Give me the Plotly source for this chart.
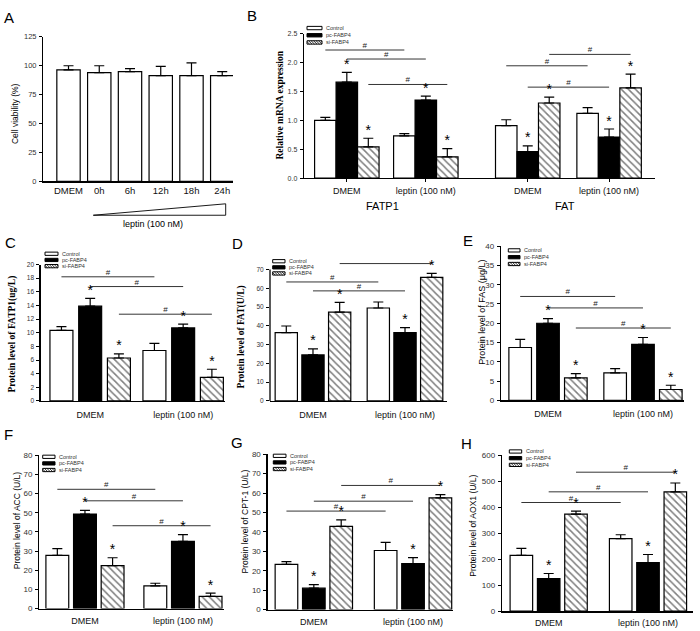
import plotly.graph_objects as go

W, H = 700, 631
SANS = "Liberation Sans, Arial, sans-serif"
SERIF = "Liberation Serif, Times New Roman, serif"

# ---------------- data ----------------
A_categories = ["DMEM", "0h", "6h", "12h", "18h", "24h"]
A_viability = [96.5, 94.0, 95.0, 91.5, 91.5, 91.5]
A_viability_err = [3.5, 6.0, 2.5, 8.0, 11.0, 3.5]

series_names = ["Control", "pc-FABP4", "si-FABP4"]
treatments = ["DMEM", "leptin (100 nM)"]

B_genes = ["FATP1", "FAT"]
B_treatments = ["DMEM", "leptin (100 nM)", "DMEM", "leptin (100 nM)"]
B_control = [1.00, 0.73, 0.91, 1.12]
B_control_err = [0.05, 0.04, 0.10, 0.10]
B_pc = [1.66, 1.35, 0.46, 0.71]
B_pc_err = [0.17, 0.07, 0.10, 0.14]
B_si = [0.54, 0.37, 1.30, 1.56]
B_si_err = [0.15, 0.14, 0.10, 0.24]
# (series, group a, group b, level)
B_sig = [(0, 0, 1, 2.216), (1, 0, 1, 2.06), (2, 0, 1, 1.62),
         (0, 2, 3, 1.943), (2, 2, 3, 2.14), (1, 2, 3, 1.574)]

C_control = [10.35, 7.4]
C_control_err = [0.55, 1.05]
C_pc = [13.9, 10.7]
C_pc_err = [1.15, 0.55]
C_si = [6.3, 3.45]
C_si_err = [0.6, 1.2]
C_sig = [(0, 0, 1, 18.2), (1, 0, 1, 16.77), (2, 0, 1, 12.72)]

D_control = [36.4, 49.5]
D_control_err = [3.5, 3.2]
D_pc = [24.5, 36.4]
D_pc_err = [3.2, 2.6]
D_si = [47.3, 65.8]
D_si_err = [5.2, 2.1]
D_sig = [(0, 0, 1, 63.35), (1, 0, 1, 58.6), (2, 0, 1, 73.15)]

E_control = [13.7, 7.1]
E_control_err = [2.1, 1.1]
E_pc = [20.0, 14.5]
E_pc_err = [1.2, 1.8]
E_si = [5.8, 2.8]
E_si_err = [1.1, 1.1]
E_sig = [(0, 0, 1, 26.95), (1, 0, 1, 23.97), (2, 0, 1, 18.76)]

F_control = [27.7, 11.8]
F_control_err = [3.6, 1.4]
F_pc = [49.3, 35.0]
F_pc_err = [1.9, 3.6]
F_si = [22.4, 6.3]
F_si_err = [4.1, 1.7]
F_sig = [(0, 0, 1, 62.2), (1, 0, 1, 56.2), (2, 0, 1, 43.2)]

G_control = [23.3, 30.4]
G_control_err = [1.4, 4.2]
G_pc = [11.0, 23.7]
G_pc_err = [1.85, 3.0]
G_si = [42.8, 57.5]
G_si_err = [3.4, 1.7]
G_sig = [(0, 0, 1, 50.7), (1, 0, 1, 55.8), (2, 0, 1, 63.9)]

H_control = [215, 279]
H_control_err = [27, 15]
H_pc = [125, 187]
H_pc_err = [20, 31]
H_si = [373, 459]
H_si_err = [12, 34]
H_sig = [(0, 0, 1, 418), (1, 0, 1, 459), (2, 0, 1, 534.5)]

A_ticks = [0, 25, 50, 75, 100, 125]
B_ticks = [0, 0.5, 1.0, 1.5, 2.0, 2.5]
C_ticks = list(range(0, 21, 2))
D_ticks = list(range(0, 71, 10))
E_ticks = list(range(0, 41, 5))
F_ticks = list(range(0, 81, 10))
G_ticks = list(range(0, 81, 10))
H_ticks = list(range(0, 601, 100))


# ---------------- helpers ----------------
def p2x(x):
    return x / W


def p2y(y):
    return 1 - y / H


fig = go.Figure()
layout = dict(width=W, height=H, margin=dict(l=0, r=0, t=0, b=0),
              paper_bgcolor="white", plot_bgcolor="white",
              showlegend=False, barmode="overlay", hovermode=False)
shapes, annotations = [], []


def axis_names(i):
    s = "" if i == 1 else str(i)
    return "x" + s, "y" + s, "xaxis" + s, "yaxis" + s


def setup_axes(i, xd, yd, xr, yr, tickvals, tsize, cat_vals, cat_text,
               cat_size=9, xticks="", ytop=None, tickformat=None, standoff=1):
    xn, yn, xk, yk = axis_names(i)
    layout[xk] = dict(domain=[p2x(xd[0]), p2x(xd[1])], range=list(xr), anchor=yn,
                      showline=True, linecolor="black", linewidth=1.3,
                      showgrid=False, zeroline=False, tickmode="array",
                      tickvals=cat_vals, ticktext=cat_text, ticks=xticks,
                      ticklen=3, tickcolor="black",
                      tickfont=dict(family=SANS, size=cat_size, color="#111"),
                      ticklabelstandoff=standoff)
    spine = ytop is not None and ytop < yr[1]
    layout[yk] = dict(domain=[p2y(yd[1]), p2y(yd[0])], range=list(yr), anchor=xn,
                      showline=not spine, linecolor="black", linewidth=1.3,
                      showgrid=False, zeroline=False, tickmode="array",
                      tickvals=tickvals, ticks="outside", ticklen=3,
                      tickwidth=1, tickcolor="black",
                      tickfont=dict(family=SANS, size=tsize, color="#333"),
                      ticklabelstandoff=1)
    if tickformat:
        layout[yk]["tickformat"] = tickformat
    if spine:
        shapes.append(dict(type="line", xref=xn + " domain", yref=yn, x0=0, x1=0,
                           y0=0, y1=ytop, line=dict(color="black", width=1.3)))


def bar_style(k):
    base = dict(line=dict(color="black", width=1.2))
    if k == 0:
        base["color"] = "white"
    elif k == 1:
        base["color"] = "black"
    else:
        base["color"] = "white"
        base["pattern"] = dict(shape="\\", fgcolor="black", bgcolor="white",
                               size=5, solidity=0.3)
    return base


def grouped(i, groups_x, vals, errs, sig, w, d, err_w=5, star_size=14):
    xn, yn, _, _ = axis_names(i)
    for k in range(3):
        fig.add_trace(go.Bar(
            x=groups_x, y=vals[k], width=w, offset=-w / 2 + (k - 1) * d,
            marker=bar_style(k), name=series_names[k],
            error_y=dict(type="data", array=errs[k], arrayminus=[0] * len(errs[k]),
                         symmetric=False, color="black", thickness=1.2, width=err_w),
            xaxis=xn, yaxis=yn))
    for k in (1, 2):
        fig.add_trace(go.Scatter(
            x=[g + (k - 1) * d for g in groups_x],
            y=[v + e for v, e in zip(vals[k], errs[k])],
            mode="text", text=["*"] * len(groups_x), textposition="top center",
            textfont=dict(family=SANS, size=star_size, color="black"),
            cliponaxis=False, xaxis=xn, yaxis=yn))
    for (k, ga, gb, level) in sig:
        shapes.append(dict(
            type="line", xref=xn, yref=yn,
            x0=groups_x[ga] + (k - 1) * d, x1=groups_x[gb] + (k - 1) * d,
            y0=level, y1=level, line=dict(color="black", width=0.8),
            label=dict(text="#", textposition="middle", yanchor="bottom", padding=1,
                       font=dict(family=SANS, size=8, color="#222"))))


def legend_box(x0, y0, w, h, step, fsize=5.5):
    for k, name in enumerate(series_names):
        top = y0 + k * step
        fill = "black" if k == 1 else "white"
        shapes.append(dict(type="rect", xref="paper", yref="paper",
                           x0=p2x(x0), x1=p2x(x0 + w), y0=p2y(top + h), y1=p2y(top),
                           fillcolor=fill, line=dict(color="black", width=1)))
        if k == 2:
            segs = []
            t = -h
            while t < w:
                sx, sy = x0 + t, top
                ex, ey = x0 + t + h, top + h
                if sx < x0:
                    sy = top + (x0 - sx)
                    sx = x0
                if ex > x0 + w:
                    ey = top + h - (ex - (x0 + w))
                    ex = x0 + w
                segs.append("M%.5f,%.5f L%.5f,%.5f" % (p2x(sx), p2y(sy), p2x(ex), p2y(ey)))
                t += 2.5
            shapes.append(dict(type="path", xref="paper", yref="paper",
                               path=" ".join(segs), line=dict(color="black", width=0.8)))
        annotations.append(dict(xref="paper", yref="paper", x=p2x(x0 + w + 2),
                                y=p2y(top + h / 2), text=name, showarrow=False,
                                xanchor="left", yanchor="middle",
                                font=dict(family=SANS, size=fsize, color="#333")))


def text(xp, yp, s, size, family=SANS, angle=0, color="black", bold=False):
    if bold:
        s = "<b>" + s + "</b>"
    annotations.append(dict(xref="paper", yref="paper", x=p2x(xp), y=p2y(yp), text=s,
                            showarrow=False, xanchor="center", yanchor="middle",
                            textangle=angle, font=dict(family=family, size=size, color=color)))


LETTER = 15

# ---------------- Panel A ----------------
setup_axes(1, (43.3, 233), (33.3, 180), (-0.82, 5.35), (0, 125), A_ticks, 7.5,
           list(range(len(A_categories))), A_categories, cat_size=9.5, standoff=0)
fig.add_trace(go.Bar(x=list(range(len(A_categories))), y=A_viability, width=0.76,
                     marker=bar_style(0),
                     error_y=dict(type="data", array=A_viability_err,
                                  arrayminus=[0] * len(A_viability_err), symmetric=False,
                                  color="black", thickness=1.2, width=5),
                     xaxis="x", yaxis="y"))
shapes.append(dict(type="path", xref="paper", yref="paper",
                   path="M%.5f,%.5f L%.5f,%.5f L%.5f,%.5f Z" % (
                       p2x(93.3), p2y(214.3), p2x(225.7), p2y(202.7), p2x(225.7), p2y(214.3)),
                   fillcolor="white", line=dict(color="black", width=0.9)))
text(153.3, 223.3, "leptin (100 nM)", 9)
text(15, 111.7, "Cell viability (%)", 8.5, angle=-90)
text(9, 14, "A", LETTER)

# ---------------- Panel B ----------------
B_pos = [0, 1, 2.29, 3.32]
setup_axes(2, (304, 655), (30, 176.7), (-0.542, 3.901), (0, 2.5), B_ticks, 7,
           B_pos, B_treatments, cat_size=9, xticks="outside", tickformat=".1f", standoff=1)
grouped(2, B_pos, [B_control, B_pc, B_si], [B_control_err, B_pc_err, B_si_err],
        B_sig, 0.272, 0.272)
legend_box(307, 22.7, 15, 3.4, 7.3, 5.5)
text(382, 205, B_genes[0], 11)
text(565, 205, B_genes[1], 11)
text(280, 103, "Relative mRNA expression", 9.5, family=SERIF, angle=-90, bold=True)
text(252, 12, "B", LETTER)

# ---------------- Panel C ----------------
setup_axes(3, (40.7, 225), (264.3, 402.7), (-0.532, 1.45), (0, 20), C_ticks, 6.5,
           [0, 1], treatments, standoff=5)
grouped(3, [0, 1], [C_control, C_pc, C_si], [C_control_err, C_pc_err, C_si_err],
        C_sig, 0.247, 0.309)
legend_box(45, 251.7, 13, 3.3, 6.3)
text(12.3, 335, "Protein level of FATP1(ug/L)", 9.5, family=SERIF, angle=-90, bold=True)
text(10, 242, "C", LETTER)

# ---------------- Panel D ----------------
setup_axes(4, (270, 446.7), (261.7, 402.7), (-0.467, 1.453), (0, 74), D_ticks, 6.5,
           [0, 1], treatments, ytop=70, standoff=5)
grouped(4, [0, 1], [D_control, D_pc, D_si], [D_control_err, D_pc_err, D_si_err],
        D_sig, 0.242, 0.29)
legend_box(272.7, 259.3, 12.3, 3.3, 6.2)
text(241.7, 337.5, "Protein level of FAT(U/L)", 9.5, family=SERIF, angle=-90, bold=True)
text(237, 243, "D", LETTER)

# ---------------- Panel E ----------------
setup_axes(5, (501, 684), (245.7, 402), (-0.495, 1.432), (0, 40), E_ticks, 8,
           [0, 1], treatments, standoff=5)
grouped(5, [0, 1], [E_control, E_pc, E_si], [E_control_err, E_pc_err, E_si_err],
        E_sig, 0.238, 0.293)
legend_box(508.3, 248.3, 11.7, 3.3, 6.9)
text(481.7, 312.5, "Protein level of FAS (μg/L)", 9, angle=-90)
text(468, 240, "E", LETTER)

# ---------------- Panel F ----------------
setup_axes(6, (39.3, 224), (457.7, 613.3), (-0.466, 1.419), (0, 80), F_ticks, 8,
           [0, 1], treatments, standoff=3)
grouped(6, [0, 1], [F_control, F_pc, F_si], [F_control_err, F_pc_err, F_si_err],
        F_sig, 0.233, 0.282)
legend_box(42.7, 457.7, 12.3, 3.3, 6.7)
text(16.7, 524, "Protein level of ACC (U/L)", 8.5, angle=-90)
text(8, 437, "F", LETTER)

# ---------------- Panel G ----------------
setup_axes(7, (267.7, 453), (456.7, 614.3), (-0.465, 1.403), (0, 80), G_ticks, 8,
           [0, 1], treatments, standoff=3)
grouped(7, [0, 1], [G_control, G_pc, G_si], [G_control_err, G_pc_err, G_si_err],
        G_sig, 0.228, 0.276)
legend_box(273.3, 456.7, 12.7, 3.3, 6.7)
text(245, 525, "Protein level of CPT-1 (U/L)", 8.5, angle=-90)
text(237, 445, "G", LETTER)

# ---------------- Panel H ----------------
setup_axes(8, (502, 693), (457.7, 616), (-0.47, 1.453), (0, 600), H_ticks, 8,
           [0, 1], treatments, standoff=3)
grouped(8, [0, 1], [H_control, H_pc, H_si], [H_control_err, H_pc_err, H_si_err],
        H_sig, 0.227, 0.275)
legend_box(509.3, 452.3, 12.4, 3.3, 6.8)
text(473.3, 529, "Protein level of AOX1 (U/L)", 8.5, angle=-90)
text(466, 446, "H", LETTER)

layout["shapes"] = shapes
layout["annotations"] = annotations
fig.update_layout(**layout)
fig.write_html("out.html",
               config={"displayModeBar": False, "staticPlot": True},
               post_script="document.body.style.margin='0';document.body.style.overflow='hidden';")
